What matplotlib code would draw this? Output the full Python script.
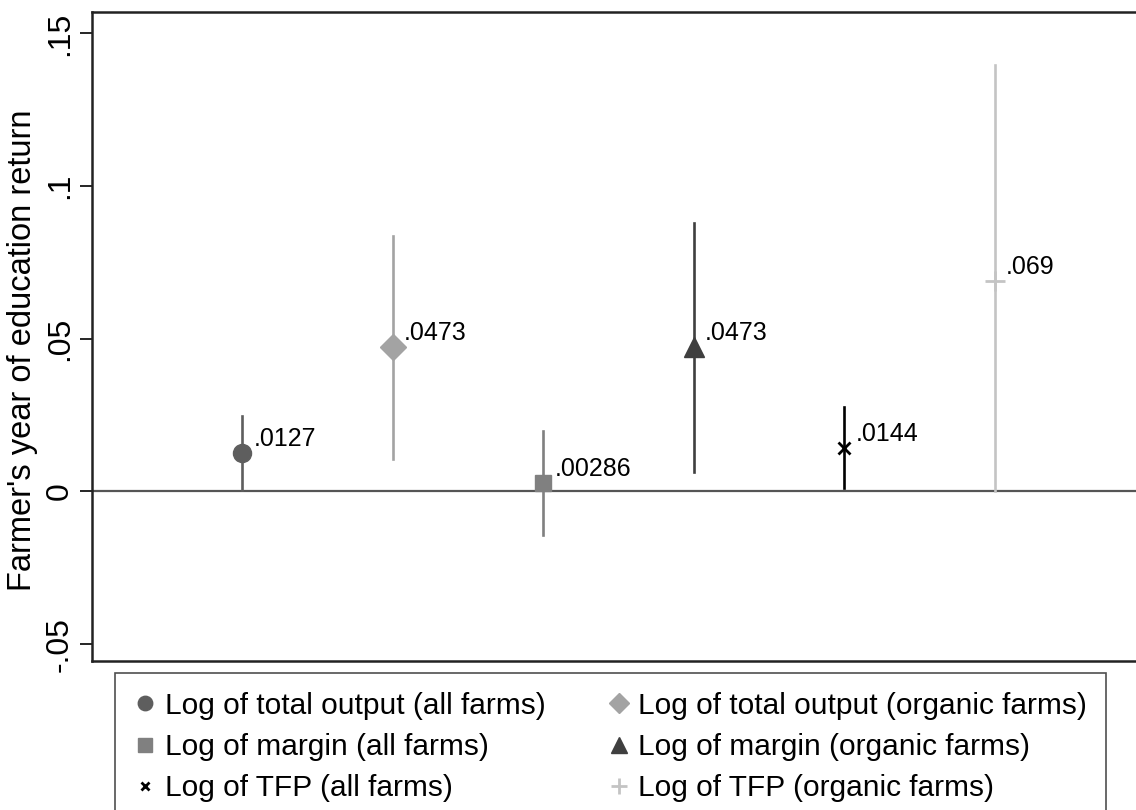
import matplotlib.pyplot as plt

plt.rcParams['font.family'] = ['Liberation Sans', 'DejaVu Sans']

# estimates and 95% CI bounds
labels = ['Log of total output (all farms)', 'Log of total output (organic farms)',
          'Log of margin (all farms)', 'Log of margin (organic farms)',
          'Log of TFP (all farms)', 'Log of TFP (organic farms)']
est = [0.0127, 0.0473, 0.00286, 0.0473, 0.0144, 0.069]
lo = [0.0005, 0.0108, -0.0143, 0.0065, 0.001, 0.0]
hi = [0.0248, 0.0838, 0.0199, 0.088, 0.0277, 0.1395]
est_txt = ['.0127', '.0473', '.00286', '.0473', '.0144', '.069']
ytick_vals = [-0.05, 0, 0.05, 0.1, 0.15]
ytick_txt = ['-.05', '0', '.05', '.1', '.15']

markers = ['o', 'D', 's', '^', 'x', '+']
colors = ['#5e5e5e', '#a3a3a3', '#808080', '#3f3f3f', '#000000', '#c4c4c4']
msizes = [13, 13, 12, 14, 8, 14]
mew = [1, 1, 1, 1, 2, 2]

fig = plt.figure(figsize=(11.36, 8.1), dpi=100)
ax = fig.add_axes([92/1136, 1-661/810, 1053/1136, 649/810])

ax.axhline(0, color='#555555', lw=1.6, zorder=1)

handles = []
for i in range(len(est)):
    xpos = i + 1
    ax.plot([xpos, xpos], [lo[i], hi[i]], color=colors[i], lw=1.9, zorder=2)
    h, = ax.plot([xpos], [est[i]], marker=markers[i], color=colors[i],
                 ms=msizes[i], mew=mew[i], ls='none', label=labels[i], zorder=3)
    handles.append(h)
    ax.annotate(est_txt[i], (xpos, est[i]), xytext=(8, 10), textcoords='offset points',
                fontsize=18, va='center', ha='left')

ax.set_xlim(0, 7)
ax.set_ylim(-0.0555, 0.157)
ax.set_xticks([])
ax.set_yticks(ytick_vals)
ax.set_yticklabels(ytick_txt, rotation=90, va='center', fontsize=23)
ax.tick_params(axis='y', length=8.5, width=1.2, pad=4)
ax.set_ylabel("Farmer's year of education return", fontsize=23.5)
ax.yaxis.set_label_coords(-0.051, 0.479)
for s in ['left', 'bottom', 'top', 'right']:
    ax.spines[s].set_linewidth(1.8)
    ax.spines[s].set_color('#222222')

order = [0, 2, 4, 1, 3, 5]
leg = fig.legend([handles[k] for k in order], [labels[k] for k in order],
                 loc='upper left', bbox_to_anchor=(115/1136, 1-673/810),
                 ncol=2, fontsize=21.5, frameon=True, fancybox=False,
                 edgecolor='#222222', borderaxespad=0, handlelength=0.8,
                 handletextpad=0.25, columnspacing=2.05, labelspacing=0.45,
                 borderpad=0.62, markerscale=0.8)
leg.get_frame().set_linewidth(1.2)

fig.savefig('out.png', dpi=100)
